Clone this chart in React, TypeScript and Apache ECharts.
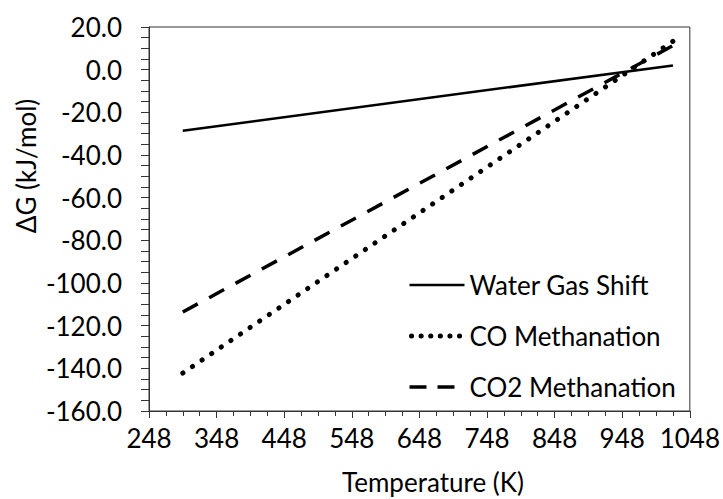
import React, { useEffect, useRef } from "react";
import * as echarts from "echarts";

// Temperature (K) of the data points
const temperatures = [298, 1023];
// ΔG (kJ/mol)
const waterGasShift = [-28.6, 2.0];
const coMethanation = [-142.2, 13.3];
const co2Methanation = [-113.6, 11.3];
const seriesNames = ["Water Gas Shift", "CO Methanation", "CO2 Methanation"];

const xMin = 248;
const xMax = 1048;
const xStep = 100;
const yMin = -160;
const yMax = 20;
const yStep = 20;

const FONT = "Lato";
const TEXT = "#000000";
const AXIS = "#333333";

function pairs(xs: number[], ys: number[]) {
  return xs.map((x, i) => [x, ys[i]]);
}

const solidStyle = { color: "#000", width: 2.5, type: "solid" as const };
const dottedStyle = { color: "#000", width: 5, type: [0.1, 11.5], cap: "round" as const };
const dashedStyle = { color: "#000", width: 3.5, type: [17, 13], cap: "butt" as const };

export default function App() {
  const ref = useRef<HTMLDivElement>(null);
  useEffect(() => {
    if (!ref.current) return;
    const chart = echarts.init(ref.current, null, { renderer: "svg" });
    chart.setOption({
      animation: false,
      backgroundColor: "#ffffff",
      textStyle: { fontFamily: FONT },
      grid: {
        left: 149,
        right: 30,
        top: 27,
        bottom: 88,
        show: true,
        borderColor: AXIS,
        borderWidth: 1,
        containLabel: false,
      },
      legend: {
        orient: "vertical",
        left: 407,
        top: 272,
        padding: 0,
        itemWidth: 55,
        itemHeight: 14,
        itemGap: 25,
        itemStyle: { opacity: 0 },
        textStyle: { fontFamily: FONT, fontSize: 26, color: TEXT },
        data: [
          { name: seriesNames[0], lineStyle: { width: 2.5, type: "solid" } },
          {
            name: seriesNames[1],
            lineStyle: { width: 5, type: [0.1, 9.5], cap: "round", dashOffset: -2.5 },
          },
          { name: seriesNames[2], lineStyle: { width: 3.5, type: [17, 11], cap: "butt" } },
        ],
      },
      xAxis: {
        type: "value",
        min: xMin,
        max: xMax,
        interval: xStep,
        axisLine: { show: true, onZero: false, lineStyle: { color: AXIS, width: 1 } },
        axisTick: { show: true, length: 7, lineStyle: { color: AXIS } },
        minorTick: { show: true, splitNumber: 4, length: 5, lineStyle: { color: AXIS } },
        splitLine: { show: false },
        axisLabel: {
          fontFamily: FONT,
          fontSize: 26,
          color: TEXT,
          margin: 14,
          formatter: (v: number) => String(v),
        },
      },
      yAxis: {
        type: "value",
        min: yMin,
        max: yMax,
        interval: yStep,
        axisLine: { show: true, onZero: false, lineStyle: { color: AXIS, width: 1 } },
        axisTick: { show: true, length: 8, lineStyle: { color: AXIS } },
        minorTick: { show: true, splitNumber: 4, length: 8, lineStyle: { color: AXIS } },
        splitLine: { show: false },
        axisLabel: {
          fontFamily: FONT,
          fontSize: 26,
          color: TEXT,
          margin: 27,
          formatter: (v: number) => v.toFixed(1),
        },
      },
      graphic: [
        {
          type: "text",
          x: 26,
          y: 166,
          rotation: Math.PI / 2,
          style: {
            text: "ΔG (kJ/mol)",
            fontFamily: FONT,
            fontSize: 26,
            lineHeight: 26,
            fill: TEXT,
            align: "center",
            verticalAlign: "middle",
          },
        },
        {
          type: "text",
          x: 433,
          y: 482,
          style: {
            text: "Temperature (K)",
            fontFamily: FONT,
            fontSize: 26,
            lineHeight: 26,
            fill: TEXT,
            align: "center",
            verticalAlign: "middle",
          },
        },
      ],
      series: [
        {
          name: seriesNames[0],
          type: "line",
          data: pairs(temperatures, waterGasShift),
          showSymbol: false,
          symbol: "none",
          color: "#000",
          lineStyle: solidStyle,
        },
        {
          name: seriesNames[1],
          type: "line",
          data: pairs(temperatures, coMethanation),
          showSymbol: false,
          symbol: "none",
          color: "#000",
          lineStyle: dottedStyle,
        },
        {
          name: seriesNames[2],
          type: "line",
          data: pairs(temperatures, co2Methanation),
          showSymbol: false,
          symbol: "none",
          color: "#000",
          lineStyle: dashedStyle,
        },
      ],
    });
    return () => chart.dispose();
  }, []);
  return (
    <div
      ref={ref}
      style={{ position: "fixed", left: 0, top: 0, width: 723, height: 499 }}
    />
  );
}
